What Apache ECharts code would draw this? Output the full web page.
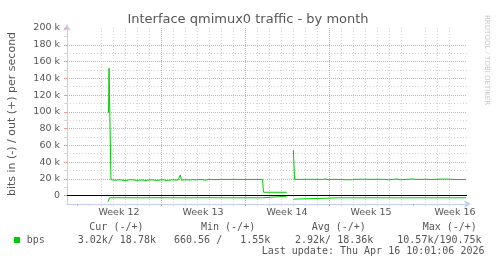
<!DOCTYPE html>
<html>
<head>
<meta charset="utf-8">
<script src="https://cdn.jsdelivr.net/npm/echarts@6/dist/echarts.min.js"></script>
<style>
html,body{margin:0;padding:0;background:#fff;}
#chart{width:497px;height:264px;}
</style>
</head>
<body>
<div id="chart"></div>
<script>
// ---- data (x in days since Monday of Week 12) ----
const titleText = 'Interface qmimux0 traffic - by month';
const yAxisTitle = 'bits in (-) / out (+) per second';
const weekLabels = ['Week 12', 'Week 13', 'Week 14', 'Week 15', 'Week 16'];
const weekLabelDays = [3.5, 10.5, 17.5, 24.5, 31.5];
const weekStartDays = [0, 7, 14, 21, 28];
const dayTickDays = [1,2,3,4,5,6,8,9,10,11,12,13,15,16,17,18,19,20,22,23,24,25,26,27,29,30,31,32];
const yMajorTicks = [0, 20000, 40000, 60000, 80000, 100000, 120000, 140000, 160000, 180000, 200000];
const yMinorTicks = [10000, 30000, 50000, 70000, 90000, 110000, 130000, 150000, 170000, 190000];

const outDays = [2.63, 2.67, 2.83,
  2.92, 3.08, 3.25, 3.42, 3.58, 3.75, 3.92, 4.08, 4.25, 4.42, 4.58, 4.75, 4.92, 5.08, 5.25, 5.42, 5.58,
  5.75, 5.92, 6.08, 6.25, 6.42, 6.58, 6.75, 6.92, 7.08, 7.25, 7.42, 7.58, 7.75, 7.92, 8.08, 8.25, 8.42,
  8.54, 8.61, 8.71, 8.92, 9.08, 9.25, 9.42, 9.67, 9.92, 10.17, 10.42, 10.67, 10.92, 11.17, 11.42,
  11.92, 12.58, 13.25, 13.92, 14.58, 15.46, 15.54, 17.48, 17.7, 18.03, 18.13,
  18.58, 19.42, 20.42, 20.67, 20.83, 21.00, 21.17, 22.00, 22.17, 22.33, 22.98, 23.17, 23.75, 24.42,
  25.25, 25.75, 25.92, 26.08, 26.67, 26.92, 27.08, 27.92, 28.25, 29.25, 29.42, 29.75, 30.58, 31.25,
  31.92, 32.42];
const outBps = [99000, 152000, 19000,
  17800, 18600, 18300, 18900, 18200, 18700, 18000, 18800, 18400, 19000, 18500, 18800, 18100, 18900, 18400, 18700, 18000,
  17900, 18600, 18300, 18800, 18500, 18900, 18200, 18700, 18300, 18800, 18100, 18900, 18500, 18800, 18300, 18700, 18500,
  18600, 24500, 18400, 18900, 18500, 18800, 18600, 19200, 18700, 19300, 19100, 18400, 19100, 19300, 19000,
  19300, 19300, 19400, 19300, 19300, 19300, 4000, 4000, null, 54500, 19400,
  19400, 19500, 19300, 19900, 19300, 18800, 19400, 19300, 18900, 19400, 19000, 19400, 19600, 19400,
  19500, 19400, 18800, 19400, 19900, 18900, 19400, 19800, 19400, 19500, 19100, 19400, 19800, 19400,
  19100, 19400];

const inDays = [2.60, 2.72, 3.5, 5.0, 7.0, 9.0, 11.0, 13.0, 15.46, 15.54, 17.48, 17.7, 18.03, 18.13, 22.0, 26.6, 26.75, 26.9, 32.42];
const inBps = [-7000, -2600, -2500, -2600, -2500, -2600, -2500, -2600, -2600, -700, -700, null, -4200, -2600, -2600, -2600, -3500, -2600, -2600];

const legendName = 'bps';
const legendHeaders = ['Cur (-/+)', 'Min (-/+)', 'Avg (-/+)', 'Max (-/+)'];
const legendValues = ['3.02k/ 18.78k', '660.56 /   1.55k', '2.92k/ 18.36k', '10.57k/190.75k'];
const lastUpdate = 'Last update: Thu Apr 16 10:01:06 2026';
const watermark = 'RRDTOOL / TOBI OETIKER';

// ---- styles ----
const GREEN = '#00cc00';
const RED_GRID = '#eba0a0';
const GRAY_GRID = '#d2d2d2';
const AXIS = '#c5cdf5';
const TXT = '#555555';
const SANS = 'DejaVu Sans';
const MONO = 'DejaVu Sans Mono';

const zip = (xs, ys) => xs.map((x, i) => [x, ys[i]]);

const chart = echarts.init(document.getElementById('chart'), null, {renderer: 'canvas'});

const legendHeaderX = [89.3, 201, 311.7, 422.7];
const legendValueX = [77.7, 174, 295, 397.3];

const graphics = [
  {type: 'text', x: 248, y: 20, style: {text: titleText, font: '13px "' + SANS + '"', fill: TXT, textAlign: 'center', textVerticalAlign: 'middle'}},
  {type: 'text', x: 12, y: 114, rotation: Math.PI / 2, style: {text: yAxisTitle, font: '11px "' + SANS + '"', fill: TXT, textAlign: 'center', textVerticalAlign: 'middle'}},
  {type: 'text', x: 487, y: 15, rotation: -Math.PI / 2, style: {text: watermark, font: '7px "' + SANS + '"', fill: '#c8c8c8', textAlign: 'left', textVerticalAlign: 'middle'}},
  {type: 'rect', shape: {x: 14, y: 237, width: 6, height: 6}, style: {fill: GREEN}},
  {type: 'text', x: 26.7, y: 240, style: {text: legendName, font: '10px "' + MONO + '"', fill: TXT, textAlign: 'left', textVerticalAlign: 'middle'}},
  {type: 'text', x: 261.7, y: 251.7, style: {text: lastUpdate, font: '10px "' + MONO + '"', fill: TXT, textAlign: 'left', textVerticalAlign: 'middle'}}
];
legendHeaders.forEach((h, i) => graphics.push({type: 'text', x: legendHeaderX[i], y: 227.7, style: {text: h, font: '10px "' + MONO + '"', fill: TXT, textAlign: 'left', textVerticalAlign: 'middle'}}));
legendValues.forEach((v, i) => graphics.push({type: 'text', x: legendValueX[i], y: 240, style: {text: v, font: '10px "' + MONO + '"', fill: TXT, textAlign: 'left', textVerticalAlign: 'middle'}}));

const xMin = -0.8333, xMax = 32.5;
const yMin = -10000, yMax = 200000;

chart.setOption({
  animation: false,
  backgroundColor: '#ffffff',
  grid: {left: 67, right: 30, top: 28, bottom: 60, containLabel: false},
  xAxis: [
    {
      type: 'value', min: xMin, max: xMax, position: 'bottom', z: 1,
      axisLine: {show: true, onZero: false, lineStyle: {color: AXIS, width: 1}, symbol: ['none', 'arrow'], symbolSize: [6, 7], symbolOffset: [0, 4]},
      axisTick: {show: true, customValues: dayTickDays, length: 2, lineStyle: {color: GRAY_GRID}},
      splitLine: {show: true, showMinLine: false, showMaxLine: false, lineStyle: {color: [GRAY_GRID], type: [1, 2], width: 1}},
      axisLabel: {show: true, customValues: weekLabelDays, margin: 4, color: TXT, fontFamily: SANS, fontSize: 9.5,
        formatter: v => { const i = weekLabelDays.findIndex(d => Math.abs(d - v) < 1e-6); return i >= 0 ? weekLabels[i] : ''; }}
    },
    {
      type: 'value', min: xMin, max: xMax, position: 'bottom', z: 2,
      axisLine: {show: false, onZero: false},
      axisTick: {show: true, customValues: weekStartDays, length: 2, lineStyle: {color: RED_GRID}},
      splitLine: {show: true, showMinLine: false, showMaxLine: false, lineStyle: {color: [RED_GRID], type: [1, 1], width: 1}},
      axisLabel: {show: false}
    }
  ],
  yAxis: [
    {
      type: 'value', min: yMin, max: yMax, position: 'left', z: 1,
      axisLine: {show: true, onZero: false, lineStyle: {color: AXIS, width: 1}, symbol: ['none', 'arrow'], symbolSize: [6, 7], symbolOffset: [0, 4]},
      axisTick: {show: true, customValues: yMinorTicks, length: 3, lineStyle: {color: GRAY_GRID}},
      splitLine: {show: true, showMinLine: false, showMaxLine: false, lineStyle: {color: [GRAY_GRID], type: [1, 2], width: 1}},
      axisLabel: {show: false}
    },
    {
      type: 'value', min: yMin, max: yMax, position: 'left', z: 2,
      axisLine: {show: false, onZero: false},
      axisTick: {show: true, customValues: yMajorTicks, length: 3, lineStyle: {color: RED_GRID}},
      splitLine: {show: true, showMinLine: false, showMaxLine: false, lineStyle: {color: [RED_GRID], type: [1, 1], width: 1}},
      axisLabel: {show: true, customValues: yMajorTicks, margin: 7, color: TXT, fontFamily: SANS, fontSize: 9.5,
        formatter: v => v === 0 ? '0' : (v / 1000) + ' k'}
    }
  ],
  series: [
    {
      name: 'out', type: 'line', xAxisIndex: 0, yAxisIndex: 0, data: zip(outDays, outBps),
      showSymbol: false, connectNulls: false, lineStyle: {color: GREEN, width: 1}, itemStyle: {color: GREEN}, z: 5,
      markLine: {silent: true, symbol: ['none', 'none'], label: {show: false}, lineStyle: {color: '#000000', type: 'solid', width: 1}, data: [{yAxis: 0}], z: 4}
    },
    {
      name: 'in', type: 'line', xAxisIndex: 0, yAxisIndex: 0, data: zip(inDays, inBps),
      showSymbol: false, connectNulls: false, lineStyle: {color: GREEN, width: 1}, itemStyle: {color: GREEN}, z: 5
    }
  ],
  graphic: graphics
});
</script>
</body>
</html>
